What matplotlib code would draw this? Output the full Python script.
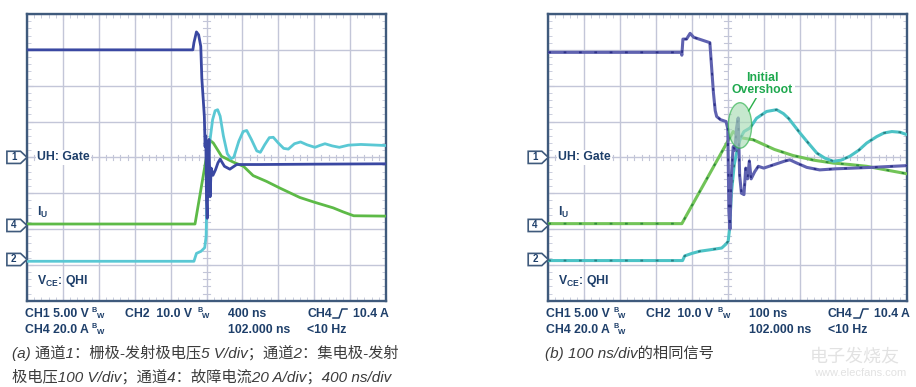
import numpy as np
import matplotlib
matplotlib.use("Agg")
import matplotlib.pyplot as plt
from matplotlib.patches import Polygon, Ellipse
from matplotlib.ticker import MultipleLocator
from matplotlib.lines import Line2D

W, H = 916, 387
plt.rcParams["font.family"] = ["Liberation Sans", "DejaVu Sans"]

# ---- traces in divisions (x: 0..10 div, y: -4..4 div) ----
# (a) 400 ns/div
a_gate_x = [0, 4.62, 4.65, 4.72, 4.78, 4.84, 4.87, 4.91, 4.94, 4.96, 4.98, 5.0, 5.02, 5.05, 5.07, 5.1,
            5.13, 5.18, 5.25, 5.32, 5.38, 5.5, 5.65, 5.84, 6.5, 8.0, 10]
a_gate_y = [3.0, 3.0, 3.2, 3.5, 3.42, 3.1, 2.2, 1.6, 1.14, 0.3, 0.6, -1.2, -1.7, 0.1, 0.5, -1.1,
            -0.3, -0.5, -0.35, -0.15, -0.05, -0.25, -0.33, -0.2, -0.2, -0.19, -0.18]
a_vce_x = [0, 4.65, 4.72, 4.85, 4.95, 4.99, 5.01, 5.04, 5.1, 5.17, 5.24, 5.31, 5.38, 5.47, 5.58, 5.68,
           5.76, 5.9, 6.02, 6.12, 6.25, 6.4, 6.5, 6.62, 6.75, 6.86, 7.0, 7.15, 7.28, 7.45, 7.62, 7.8,
           8.02, 8.15, 8.3, 8.5, 8.7, 8.95, 9.3, 10]
a_vce_y = [-2.9, -2.9, -2.68, -2.62, -2.52, -2.2, -1.0, -0.2, 0.5, 1.05, 1.3, 1.33, 1.15, 0.6, 0.1, -0.04,
           0.0, 0.45, 0.72, 0.75, 0.5, 0.18, 0.14, 0.35, 0.55, 0.56, 0.4, 0.25, 0.23, 0.38, 0.43, 0.35,
           0.28, 0.33, 0.38, 0.32, 0.28, 0.34, 0.36, 0.33]
a_cur_x = [0, 4.68, 5.08, 5.19, 5.42, 5.74, 6.03, 6.3, 6.67, 7.05, 7.6, 8.0, 8.53, 8.8, 9.1, 10]
a_cur_y = [-1.86, -1.86, 0.49, 0.4, 0.03, -0.13, -0.25, -0.51, -0.67, -0.86, -1.12, -1.25, -1.41, -1.52,
           -1.63, -1.64]

# (b) 100 ns/div
b_gate_x = [0, 3.7, 3.72, 3.75, 3.85, 3.95, 4.05, 4.2, 4.35, 4.5, 4.55, 4.6, 4.65, 4.69, 4.8, 4.95,
            5.0, 5.03, 5.06, 5.1, 5.15, 5.2, 5.24, 5.29, 5.33, 5.38, 5.45, 5.5, 5.55, 5.6, 5.65, 5.75,
            5.85, 6.0, 6.3, 6.6, 6.73, 6.9, 7.2, 7.56, 8.0, 9.0, 10]
b_gate_y = [2.93, 2.93, 2.85, 3.3, 3.3, 3.46, 3.35, 3.3, 3.25, 3.2, 2.5, 1.8, 1.3, 1.14, 1.05, 1.0,
            0.8, -1.5, -2.0, -0.5, 0.3, 0.2, 0.8, 1.1, -0.5, -1.0, -1.04, -0.3, -0.6, -0.1, -0.6, -0.4,
            -0.25, -0.3, -0.2, -0.1, -0.07, -0.15, -0.28, -0.35, -0.32, -0.28, -0.23]
b_vce_x = [0, 3.74, 3.8, 4.0, 4.22, 4.5, 4.83, 4.95, 5.01, 5.05, 5.1, 5.18, 5.28, 5.36, 5.45, 5.62,
           5.8, 6.08, 6.36, 6.55, 6.7, 7.01, 7.2, 7.48, 7.7, 7.94, 8.15, 8.4, 8.65, 8.87, 9.15, 9.35,
           9.57, 9.8, 10]
b_vce_y = [-2.88, -2.88, -2.75, -2.68, -2.62, -2.58, -2.53, -2.42, -2.34, -2.0, -1.0, -0.2, 0.3, 0.55,
           0.72, 0.82, 1.09, 1.28, 1.33, 1.22, 1.08, 0.68, 0.45, 0.12, -0.02, -0.11, -0.08, 0.03, 0.2,
           0.4, 0.58, 0.68, 0.72, 0.7, 0.63]
b_cur_x = [0, 3.72, 5.15, 5.35, 5.71, 6.3, 6.82, 7.4, 7.94, 8.4, 8.87, 9.4, 10]
b_cur_y = [-1.85, -1.85, 0.72, 0.55, 0.49, 0.22, 0.05, -0.08, -0.16, -0.2, -0.25, -0.35, -0.46]

markers = [("1", 0.0), ("4", -1.9), ("2", -2.85)]
row1 = ["CH1 5.00 V", "CH2  10.0 V", None, "CH4"]
row2 = ["CH4 20.0 A", None, "102.000 ns", "<10 Hz"]
timebase = ["400 ns", "100 ns"]
trig_level = "10.4 A"
cap_a = ["(a) 通道1：栅极-发射极电压5 V/div；通道2：集电极-发射",
         "极电压100 V/div；通道4：故障电流20 A/div；400 ns/div"]
cap_b = "(b) 100 ns/div的相同信号"

NAVY = "#1e3f6a"
FRAME = "#3f5a7c"
GRID = "#c3c6d8"


def fx(x):
    return x / W


def fy(y):
    return 1 - y / H


def scope(ax):
    ax.set_xlim(0, 10)
    ax.set_ylim(-4, 4)
    ax.xaxis.set_major_locator(MultipleLocator(1))
    ax.yaxis.set_major_locator(MultipleLocator(1))
    ax.xaxis.set_minor_locator(MultipleLocator(0.2))
    ax.yaxis.set_minor_locator(MultipleLocator(0.2))
    ax.grid(True, which="major", color=GRID, lw=1.0)
    ax.tick_params(which="both", direction="in", top=True, right=True, color=GRID,
                   labelbottom=False, labelleft=False)
    ax.tick_params(which="major", length=4)
    ax.tick_params(which="minor", length=3)
    for s in ax.spines.values():
        s.set_color(FRAME)
        s.set_linewidth(1.7)
    # crosshair ticks on the centre lines
    for t in np.arange(0.2, 10, 0.2):
        ax.plot([t, t], [-0.07, 0.07], color=GRID, lw=0.8, zorder=1)
    for t in np.arange(-3.8, 4, 0.2):
        ax.plot([4.9, 5.1], [t, t], color=GRID, lw=0.8, zorder=1)
    # channel markers
    for lab, yv in markers:
        pts = [(-0.56, yv - 0.17), (-0.18, yv - 0.17), (0.0, yv), (-0.18, yv + 0.17), (-0.56, yv + 0.17)]
        ax.add_patch(Polygon(pts, closed=True, fc="white", ec=FRAME, lw=1.2, clip_on=False, zorder=6))
        ax.text(-0.37, yv, lab, ha="center", va="center", fontsize=7, fontweight="bold",
                color=NAVY, clip_on=False, zorder=7)
    kw = dict(ha="left", va="center", fontsize=8.8, fontweight="bold", color=NAVY, zorder=7)
    ax.text(0.28, 0.0, "UH: Gate", bbox=dict(fc="white", ec="none", pad=1), **kw)
    ax.text(0.28, -1.55, r"I$_\mathregular{U}$", **kw)
    ax.text(0.28, -3.45, r"V$_\mathregular{CE}$: QHI", **kw)


def bw(fig, x, y):
    fig.text(fx(x), fy(y - 3), "B", fontsize=5.2, fontweight="bold", color=NAVY, va="center")
    fig.text(fx(x + 4.5), fy(y + 2.5), "W", fontsize=5.6, fontweight="bold", color=NAVY, va="center")


def readout(fig, dx, tb):
    kw = dict(fontsize=8.8, fontweight="bold", color=NAVY, va="center")
    y1, y2 = 314, 330
    fig.text(fx(25 + dx), fy(y1), row1[0], **kw)
    bw(fig, 92 + dx, y1)
    fig.text(fx(125 + dx), fy(y1), row1[1], **kw)
    bw(fig, 197 + dx, y1)
    fig.text(fx(228 + dx), fy(y1), tb, **kw)
    fig.text(fx(307 + dx), fy(y1), row1[3], **kw)
    sx = [333 + dx, 339 + dx, 342 + dx, 347 + dx]
    sy = [318, 318, 309, 309]
    fig.add_artist(Line2D([fx(v) for v in sx], [fy(v) for v in sy], color=NAVY, lw=1.1))
    fig.text(fx(353 + dx), fy(y1), trig_level, **kw)
    fig.text(fx(25 + dx), fy(y2), row2[0], **kw)
    bw(fig, 92 + dx, y2)
    fig.text(fx(228 + dx), fy(y2), row2[2], **kw)
    fig.text(fx(307 + dx), fy(y2), row2[3], **kw)


fig = plt.figure(figsize=(W / 100, H / 100), dpi=100)
axa = fig.add_axes([fx(27), fy(300.7), 359 / W, 286.7 / H])
axb = fig.add_axes([fx(548.3), fy(300.7), 359 / W, 286.7 / H])
for ax in (axa, axb):
    scope(ax)

# (a)
axa.plot(a_cur_x, a_cur_y, color="#5dba47", lw=2.0, zorder=3)
axa.plot(a_vce_x, a_vce_y, color="#5ac8d4", lw=2.0, zorder=3)
axa.plot(a_gate_x, a_gate_y, color="#3a48a2", lw=2.0, zorder=4)

# (b) persistence look: light trace with darker dashes on top
for xs, ys, c1, c2 in [(b_cur_x, b_cur_y, "#72c458", "#2f8a3c"),
                       (b_vce_x, b_vce_y, "#4cc3c6", "#2a7d80"),
                       (b_gate_x, b_gate_y, "#5f62b0", "#2b2f86")]:
    axb.plot(xs, ys, color=c1, lw=2.2, zorder=3)
    axb.plot(xs, ys, color=c2, lw=1.3, dashes=(1.5, 7), zorder=3)

axb.add_patch(Ellipse((5.34, 0.89), 0.65, 1.27, fc="#a8dcb4", ec="#2bb04a", lw=1.0, alpha=0.65, zorder=5))
axb.plot([5.58, 5.8], [1.3, 1.67], color="#2bb04a", lw=1.0, zorder=5)
axb.text(5.95, 2.05, "Initial\nOvershoot", ha="center", va="center", fontsize=8.8, fontweight="bold",
         color="#1ea84e", linespacing=1.05, zorder=6, bbox=dict(fc="white", ec="none", pad=1.5))

readout(fig, 0, timebase[0])
readout(fig, 521, timebase[1])

cap_fam = ["Liberation Sans", "Noto Sans CJK SC", "DejaVu Sans"]
ckw = dict(family=cap_fam, style="italic", fontsize=11, color="#3c3c3c", va="center")
fig.text(fx(12), fy(353), cap_a[0], **ckw)
fig.text(fx(12), fy(377), cap_a[1], **ckw)
fig.text(fx(545), fy(353), cap_b, **ckw)

# faint watermark
cjk = ["Noto Sans CJK SC", "DejaVu Sans"]
fig.text(fx(855), fy(356), "电子发烧友", family=cjk, fontsize=13, color="#e2e2e2", ha="center", va="center")
fig.text(fx(860), fy(373), "www.elecfans.com", fontsize=8, color="#e2e2e2", ha="center", va="center")

fig.savefig("out.png", dpi=100)
